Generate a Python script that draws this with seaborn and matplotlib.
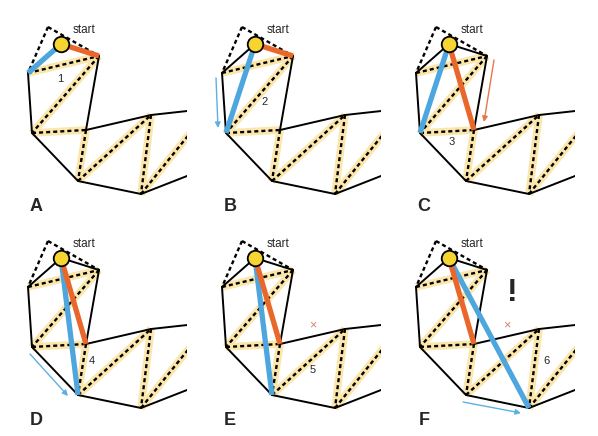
import pandas as pd
import seaborn as sns
import matplotlib
matplotlib.use("Agg")
import matplotlib.pyplot as plt

sns.set_style("white")
plt.rcParams['font.family'] = ['Liberation Sans', 'DejaVu Sans']

# mesh vertices (panel-local pixel coordinates, y downwards)
vertex_names = ["T", "S", "L0", "R0", "L1", "R1", "L2", "R2", "L3", "R3", "L4"]
vertex_x = [48, 61, 28, 99, 32, 86, 78, 151, 141, 210, 210]
vertex_y = [27, 44, 73, 56, 133, 130, 181, 115, 194, 108.5, 167]

# edges of the corridor
solid_edges = [("S", "L0"), ("S", "R0"), ("L0", "L1"), ("L1", "L2"), ("L2", "L3"),
               ("L3", "L4"), ("R0", "R1"), ("R1", "R2"), ("R2", "R3")]
portal_edges = [("L0", "R0"), ("R0", "L1"), ("L1", "R1"), ("R1", "L2"),
                ("L2", "R2"), ("R2", "L3"), ("L3", "R3")]
outer_dashed = [("T", "L0"), ("T", "R0")]

# one entry per panel
panel_letters = ["A", "B", "C", "D", "E", "F"]
left_ends = ["L0", "L1", "L1", "L2", "L2", "L3"]
right_ends = ["R0", "R0", "R1", "R1", "R1", "R1"]
step_labels = ["1", "2", "3", "4", "5", "6"]
step_x = [60, 71, 64, 92, 119, 158]
step_y = [79, 102, 142, 147, 156, 147]
show_cross = [False, False, False, False, True, True]
show_bang = [False, False, False, False, False, True]
# motion arrows: (panel, x0, y0, x1, y1, colour key)
arrows = [(1, 22, 78, 24, 128, "blue"),
          (2, 106, 60, 96, 122, "orange"),
          (3, 30, 140, 68, 182, "blue"),
          (5, 75, 188, 133, 199, "blue")]

pts = pd.DataFrame({"x": vertex_x, "y": vertex_y}, index=vertex_names)

BLUE = "#4ea6df"
ORANGE = "#e9672b"
ARROW_COL = {"blue": "#5eb0e3", "orange": "#e2794a"}
YELLOW = "#fbe6ab"

W, H = 598, 436
fig = plt.figure(figsize=(W / 100, H / 100), dpi=100)


def seg(ax, a, b, **kw):
    ax.plot([pts.x[a], pts.x[b]], [pts.y[a], pts.y[b]], **kw)


for i, letter in enumerate(panel_letters):
    col, row = i % 3, i // 3
    x0, y0 = 194 * col, 214 * row
    ax = fig.add_axes([x0 / W, 1 - (y0 + 214) / H, 187 / W, 214 / H])
    ax.set_xlim(0, 187)
    ax.set_ylim(214, 0)
    ax.axis("off")

    for a, b in portal_edges:
        seg(ax, a, b, color=YELLOW, lw=5.5, solid_capstyle="butt", zorder=1)
    for a, b in solid_edges:
        seg(ax, a, b, color="black", lw=1.4, zorder=2)
    for a, b in portal_edges + outer_dashed:
        seg(ax, a, b, color="black", lw=1.7, ls=(0, (1.7, 1.3)), zorder=3)

    seg(ax, "S", left_ends[i], color=BLUE, lw=3.8, solid_capstyle="butt", zorder=4)
    seg(ax, "S", right_ends[i], color=ORANGE, lw=3.8, solid_capstyle="butt", zorder=4)

    sns.scatterplot(x=[pts.x["S"]], y=[pts.y["S"]], ax=ax, s=125, color="#f6d532",
                    edgecolor="black", linewidth=1.3, zorder=6, legend=False)
    ax.set_xlim(0, 187)
    ax.set_ylim(214, 0)

    ax.text(84, 30, "start", fontsize=8.5, ha="center", va="center", zorder=7)
    ax.text(step_x[i], step_y[i], step_labels[i], fontsize=8, ha="center", va="center", zorder=7)
    ax.text(36, 206, letter, fontsize=13, fontweight="bold", ha="center", va="center")

    if show_cross[i]:
        ax.text(119, 111, "×", fontsize=9, color="#d9826a", ha="center", va="center")
    if show_bang[i]:
        ax.text(124, 79, "!", fontsize=23, fontweight="bold", ha="center", va="center")

    for p, ax0, ay0, ax1, ay1, c in arrows:
        if p == i:
            ax.annotate("", xy=(ax1, ay1), xytext=(ax0, ay0),
                        arrowprops=dict(arrowstyle="-|>", color=ARROW_COL[c], lw=1,
                                        mutation_scale=8, shrinkA=0, shrinkB=0))

fig.savefig("out.png", dpi=100)
